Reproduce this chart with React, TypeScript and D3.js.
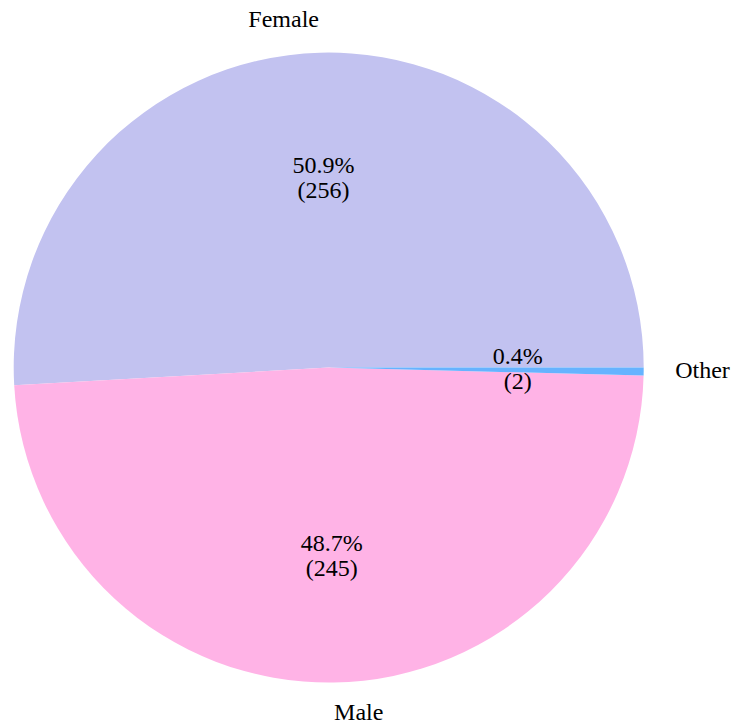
import React from "react";
import * as d3 from "d3";

const categories = ["Female", "Male", "Other"];
const counts = [256, 245, 2];
const colors = ["#c2c2f0", "#ffb3e6", "#66b3ff"];

const W = 736;
const H = 723;
const CX = 328.7;
const CY = 367.6;
const R = 315;

export default function App() {
  const total = d3.sum(counts);
  const pie = d3
    .pie<number>()
    .sort(null)
    .value((d) => d)
    .startAngle(Math.PI / 2)
    .endAngle(Math.PI / 2 - 2 * Math.PI);
  const arcs = pie(counts);
  const arc = d3.arc<d3.PieArcDatum<number>>().innerRadius(0).outerRadius(R);
  const font = "'Liberation Serif', 'Times New Roman', serif";

  return (
    <svg
      width={W}
      height={H}
      style={{ position: "absolute", left: 0, top: 0, background: "#fff" }}
    >
      <g transform={`translate(${CX},${CY})`}>
        {arcs.map((a, i) => (
          <path key={i} d={arc(a) || ""} fill={colors[i]} />
        ))}
        {arcs.map((a, i) => {
          const mid = (a.startAngle + a.endAngle) / 2;
          const lx = 1.1 * R * Math.sin(mid);
          const ly = -1.1 * R * Math.cos(mid);
          const px = 0.6 * R * Math.sin(mid);
          const py = -0.6 * R * Math.cos(mid);
          const pct = ((counts[i] / total) * 100).toFixed(1) + "%";
          return (
            <g key={"t" + i} fontFamily={font} fontSize={24} fill="#000">
              <text
                x={lx}
                y={ly + 6}
                textAnchor={lx < 0 ? "end" : "start"}
              >
                {categories[i]}
              </text>
              <text x={px} y={py - 5.5} textAnchor="middle">
                {pct}
              </text>
              <text x={px} y={py + 19.5} textAnchor="middle">
                {`(${counts[i]})`}
              </text>
            </g>
          );
        })}
      </g>
    </svg>
  );
}
